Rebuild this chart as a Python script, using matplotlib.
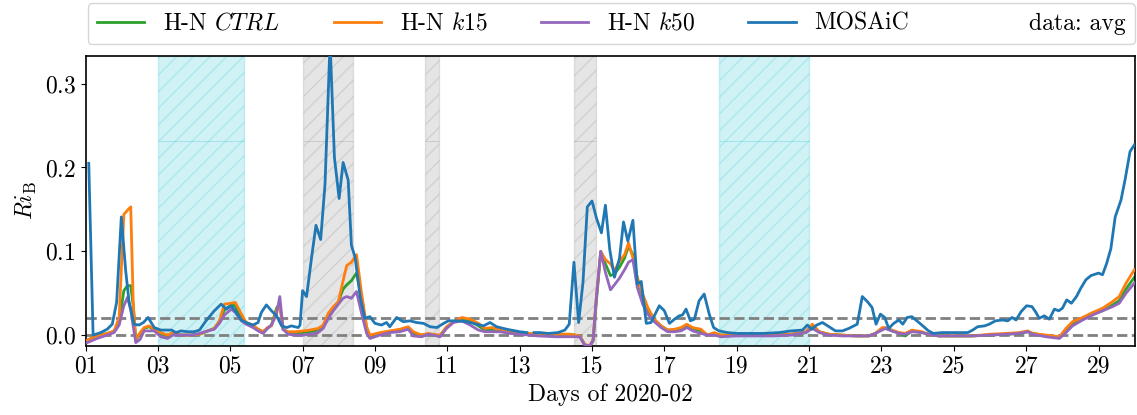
import numpy as np
import matplotlib
matplotlib.use("Agg")
import matplotlib.pyplot as plt
from matplotlib.lines import Line2D

plt.rcParams["font.family"] = "serif"
plt.rcParams["font.serif"] = ["cmr10"]
plt.rcParams["mathtext.fontset"] = "cm"
plt.rcParams["axes.formatter.use_mathtext"] = True
plt.rcParams["font.size"] = 17

# MOSAiC observations (day of Feb 2020, Ri_B)
t_obs = [1.09, 1.21, 1.42, 1.6, 1.74, 1.86, 1.99, 2.11, 2.2, 2.34, 2.48, 2.6, 2.73, 2.9,
         3.08, 3.2, 3.38, 3.5, 3.64, 3.82, 4.0, 4.15, 4.33, 4.56, 4.75, 4.89, 5.03, 5.17,
         5.3, 5.49, 5.63, 5.77, 5.86, 6.0, 6.14, 6.28, 6.42, 6.56, 6.69, 6.88, 6.93,
         7.0, 7.11, 7.25, 7.37, 7.5, 7.62, 7.76, 7.88, 8.01, 8.12, 8.26, 8.35, 8.45, 8.59,
         8.72, 8.86, 9.0, 9.18, 9.32, 9.41, 9.6, 9.78, 9.97, 10.15, 10.34, 10.52, 10.71,
         10.9, 11.03, 11.26, 11.53, 11.81, 12.0, 12.18, 12.36, 12.64, 13.0, 13.2, 13.3,
         13.4, 13.56, 13.79, 14.06, 14.25, 14.37, 14.5, 14.63, 14.75, 14.87, 15.0, 15.12,
         15.26, 15.37, 15.49, 15.62, 15.76, 15.87, 15.99, 16.13, 16.25, 16.36, 16.5, 16.63,
         16.86, 17.0, 17.14, 17.28, 17.41, 17.5, 17.6, 17.72, 17.83, 17.96, 18.1, 18.24,
         18.36, 18.51, 18.74, 19.0, 19.26, 19.72, 20.17, 20.5, 20.82, 20.95, 21.07, 21.21,
         21.37, 21.55, 21.73, 21.92, 22.1, 22.33, 22.47, 22.61, 22.74, 22.85, 22.97, 23.09,
         23.2, 23.34, 23.48, 23.59, 23.71, 23.84, 23.98, 24.17, 24.3, 24.44, 24.67, 24.85,
         25.06, 25.39, 25.52, 25.66, 25.85, 25.98, 26.15, 26.35, 26.49, 26.61, 26.72, 26.86,
         27.01, 27.16, 27.27, 27.36, 27.5, 27.64, 27.78, 27.9, 28.0, 28.12, 28.25, 28.39,
         28.51, 28.65, 28.79, 28.93, 29.0, 29.11, 29.22, 29.34, 29.46, 29.62, 29.74, 29.87,
         29.99]
ri_obs = [0.205, 0.0, 0.003, 0.007, 0.013, 0.039, 0.141, 0.077, 0.041, 0.013, 0.012, 0.015,
          0.021, 0.009, 0.006, 0.006, 0.006, 0.003, 0.005, 0.004, 0.004, 0.006, 0.017, 0.029,
          0.037, 0.031, 0.035, 0.027, 0.018, 0.014, 0.012, 0.015, 0.027, 0.036, 0.029, 0.023,
          0.011, 0.009, 0.011, 0.009, 0.012,
          0.053, 0.046, 0.093, 0.131, 0.114, 0.18, 0.35, 0.212, 0.163, 0.206, 0.185, 0.107,
          0.093, 0.046, 0.02, 0.022, 0.014, 0.012, 0.015, 0.01, 0.021, 0.016, 0.017, 0.015,
          0.014, 0.01, 0.009, 0.014, 0.017, 0.017, 0.016, 0.013, 0.011, 0.015, 0.01, 0.007,
          0.004, 0.003, np.nan,
          0.003, 0.003, 0.002, 0.003, 0.006, 0.013, 0.087, 0.015, 0.063, 0.153, 0.16, 0.14,
          0.122, 0.155, 0.102, 0.069, 0.092, 0.135, 0.112, 0.137, 0.061, 0.064, 0.014, 0.015,
          0.035, 0.029, 0.014, 0.019, 0.023, 0.024, 0.031, 0.017, 0.019, 0.041, 0.049, 0.025,
          0.009, 0.005, 0.003, 0.002, 0.002, 0.002, 0.003, 0.005, 0.006, 0.012, 0.007, 0.012,
          0.015, 0.01, 0.005, 0.005, 0.008, 0.013, 0.046, 0.04, 0.033, 0.013, 0.025, 0.021,
          0.008, 0.014, 0.018, 0.013, 0.021, 0.022, 0.017, 0.01, 0.005, 0.002, 0.003, 0.003,
          0.003, 0.003, 0.006, 0.01, 0.011, 0.013, 0.017, 0.018, 0.017, 0.021, 0.018, 0.028,
          0.035, 0.034, 0.027, 0.02, 0.023, 0.019, 0.031, 0.029, 0.032, 0.042, 0.038, 0.046,
          0.056, 0.066, 0.071, 0.073, 0.074, 0.072, 0.085, 0.103, 0.141, 0.161, 0.187, 0.219,
          0.227]

# model runs (H-N CTRL, k15, k50) on a shared time grid
t_mod = [1.05, 1.32, 1.6, 1.79, 1.93, 2.06, 2.16, 2.25, 2.32, 2.39, 2.51, 2.62, 2.76, 2.9,
         3.08, 3.27, 3.41, 3.64, 3.92, 4.15, 4.38, 4.56, 4.7, 4.84, 5.03, 5.14, 5.31, 5.44,
         5.63, 5.77, 5.91, 6.03, 6.14, 6.28, 6.37, 6.46, 6.6, 6.79, 7.02, 7.2, 7.43, 7.57,
         7.71, 7.85, 7.99, 8.12, 8.22, 8.35, 8.49, 8.63, 8.77, 8.86, 9.14, 9.41, 9.69, 9.92,
         10.06, 10.29, 10.47, 10.61, 10.8, 10.98, 11.17, 11.4, 11.63, 11.86, 12.04, 12.23,
         12.46, 12.73, 13.0, 13.5, 14.0, 14.4, 14.66, 14.8, 14.94, 15.03, 15.12, 15.24,
         15.37, 15.51, 15.62, 15.76, 15.9, 16.01, 16.13, 16.25, 16.4, 16.54, 16.72, 16.91,
         17.09, 17.28, 17.46, 17.62, 17.78, 18.01, 18.19, 18.38, 18.56, 19.0, 19.5, 20.0,
         20.5, 20.91, 21.09, 21.28, 21.55, 21.92, 22.28, 22.65, 22.83, 23.02, 23.11, 23.29,
         23.48, 23.66, 23.84, 24.12, 24.3, 24.58, 25.0, 25.52, 25.98, 26.44, 26.81, 27.04,
         27.18, 27.55, 27.92, 28.1, 28.28, 28.56, 28.84, 29.11, 29.39, 29.57, 29.76, 29.99]
ri_k15 = [-0.006, -0.001, 0.002, 0.005, 0.021, 0.144, 0.149, 0.153, 0.037, -0.005, 0.003,
          0.009, 0.011, 0.007, 0.003, 0.0, 0.003, 0.0, 0.0, 0.001, 0.005, 0.008, 0.017, 0.037,
          0.038, 0.039, 0.025, 0.015, 0.012, 0.007, 0.004, 0.009, 0.011, 0.029, 0.035, 0.007,
          0.004, 0.004, 0.005, 0.006, 0.008, 0.012, 0.026, 0.034, 0.04, 0.065, 0.083, 0.087,
          0.096, 0.05, 0.01, 0.0, 0.003, 0.005, 0.007, 0.01, 0.004, 0.0, 0.002, 0.001, 0.0,
          0.01, 0.016, 0.021, 0.019, 0.014, 0.008, 0.009, 0.006, 0.003, 0.002, 0.002, 0.001,
          0.001, -0.001, -0.011, -0.013, -0.005, 0.045, 0.1, 0.09, 0.085, 0.077, 0.088, 0.096,
          0.11, 0.092, 0.069, 0.049, 0.033, 0.019, 0.011, 0.006, 0.007, 0.009, 0.013, 0.009,
          0.007, 0.0, 0.003, 0.0, 0.0, 0.0, 0.0, 0.001, 0.004, 0.013, 0.004, 0.001, 0.0,
          -0.001, -0.001, 0.002, 0.009, 0.009, 0.006, 0.003, 0.002, 0.006, 0.004, 0.001,
          -0.001, -0.001, -0.001, 0.001, 0.002, 0.003, 0.005, 0.002, 0.0, -0.002, 0.008, 0.016,
          0.021, 0.027, 0.032, 0.04, 0.046, 0.062, 0.078]
ri_ctrl = [-0.006, -0.001, 0.002, 0.004, 0.015, 0.053, 0.059, 0.059, 0.035, -0.006, 0.002,
           0.008, 0.01, 0.006, 0.002, -0.001, 0.002, 0.0, 0.0, 0.001, 0.005, 0.008, 0.016, 0.03,
           0.036, 0.035, 0.02, 0.014, 0.011, 0.007, 0.004, 0.008, 0.012, 0.032, 0.038, 0.007,
           0.003, 0.003, 0.003, 0.004, 0.006, 0.011, 0.024, 0.031, 0.04, 0.055, 0.06, 0.065,
           0.074, 0.045, 0.008, -0.002, 0.002, 0.004, 0.006, 0.008, 0.002, 0.0, 0.001, 0.0,
           -0.001, 0.009, 0.016, 0.019, 0.017, 0.011, 0.006, 0.006, 0.005, 0.003, 0.002, 0.001,
           0.001, 0.001, -0.001, -0.012, -0.013, -0.007, 0.04, 0.098, 0.085, 0.071, 0.073,
           0.081, 0.092, 0.106, 0.096, 0.068, 0.046, 0.03, 0.018, 0.011, 0.006, 0.006, 0.008,
           0.011, 0.008, 0.005, 0.0, 0.002, 0.0, 0.0, 0.0, 0.0, 0.001, 0.003, 0.01, 0.004,
           0.001, 0.0, -0.001, -0.001, 0.002, 0.007, 0.008, 0.005, 0.003, -0.001, 0.005, 0.003,
           0.001, -0.001, -0.001, -0.001, 0.0, 0.001, 0.002, 0.004, 0.002, -0.001, -0.003, 0.005,
           0.013, 0.019, 0.025, 0.029, 0.036, 0.041, 0.055, 0.069]
ri_k50 = [-0.009, -0.004, 0.0, 0.003, 0.012, 0.035, 0.045, 0.03, 0.01, -0.009, -0.005,
          0.005, 0.005, 0.005, -0.002, -0.004, 0.0, 0.0, 0.0, 0.002, 0.005, 0.007, 0.014, 0.024,
          0.031, 0.027, 0.017, 0.013, 0.009, 0.005, 0.002, 0.008, 0.012, 0.025, 0.046, 0.007,
          0.001, 0.0, 0.0, 0.001, 0.003, 0.008, 0.02, 0.029, 0.037, 0.044, 0.046, 0.044, 0.052,
          0.026, 0.002, -0.004, 0.0, 0.003, 0.004, 0.007, -0.001, -0.002, 0.001, 0.0, -0.002,
          0.008, 0.015, 0.017, 0.012, 0.006, 0.004, 0.004, 0.004, 0.002, 0.001, -0.001, -0.002,
          -0.002, -0.002, -0.012, -0.013, -0.006, 0.045, 0.1, 0.075, 0.054, 0.06, 0.068, 0.078,
          0.087, 0.09, 0.057, 0.037, 0.025, 0.016, 0.009, 0.004, 0.004, 0.005, 0.009, 0.005,
          0.002, 0.0, 0.0, -0.002, -0.001, -0.001, -0.001, 0.0, 0.003, 0.008, 0.003, 0.0,
          -0.001, -0.001, -0.001, 0.002, 0.006, 0.008, 0.005, 0.002, 0.001, 0.004, 0.003, 0.001,
          -0.001, -0.001, -0.001, 0.0, 0.001, 0.002, 0.004, 0.001, -0.002, -0.004, 0.003, 0.011,
          0.018, 0.024, 0.029, 0.034, 0.038, 0.05, 0.062]

# shaded periods (start day, end day)
cyan_periods = [(3.0, 5.39), (18.5, 21.0)]
gray_periods = [(7.0, 8.38), (10.38, 10.76), (14.5, 15.12)]

day_ticks = list(range(1, 30, 2))
day_labels = [f"{d:02d}" for d in day_ticks]

fig = plt.figure(figsize=(11.37, 4.15), dpi=100)
ax = fig.add_axes([0.0752, 0.1663, 0.9228, 0.6987])

for a, b in cyan_periods:
    ax.axvspan(a, b, color="tab:cyan", alpha=0.2, hatch="//", zorder=0)
    ax.hlines(0.232, a, b, color="tab:cyan", lw=0.6, alpha=0.3, zorder=0)
for a, b in gray_periods:
    ax.axvspan(a, b, color="gray", alpha=0.2, hatch="//", zorder=0)
    ax.hlines(0.232, a, b, color="gray", lw=0.6, alpha=0.3, zorder=0)

ax.axhline(0.0, color="gray", ls="--", lw=2, zorder=1)
ax.axhline(0.02, color="gray", ls="--", lw=2, zorder=1)

ax.plot(t_mod, ri_ctrl, color="tab:green", lw=2, label=r"H-N $CTRL$", zorder=2)
ax.plot(t_mod, ri_k15, color="tab:orange", lw=2, label=r"H-N $k15$", zorder=3)
ax.plot(t_mod, ri_k50, color="tab:purple", lw=2, label=r"H-N $k50$", zorder=4)
ax.plot(t_obs, ri_obs, color="tab:blue", lw=2, label="MOSAiC", zorder=5)

ax.set_xlim(1, 30)
ax.set_ylim(-0.013, 0.333)
ax.set_xticks(day_ticks)
ax.set_xticklabels(day_labels)
ax.set_yticks([0.0, 0.1, 0.2, 0.3])
ax.set_xlabel("Days of 2020-02")
ax.set_ylabel(r"$Ri_\mathrm{B}$")
for s in ax.spines.values():
    s.set_linewidth(1.2)

handles, labels = ax.get_legend_handles_labels()
handles.append(Line2D([], [], color="none"))
labels.append("data: avg")
ax.legend(handles, labels, loc="lower left", bbox_to_anchor=(0.002, 1.04, 0.998, 0.2),
          mode="expand", ncol=5, borderaxespad=0, fontsize=17)

fig.savefig("out.png", dpi=100)
